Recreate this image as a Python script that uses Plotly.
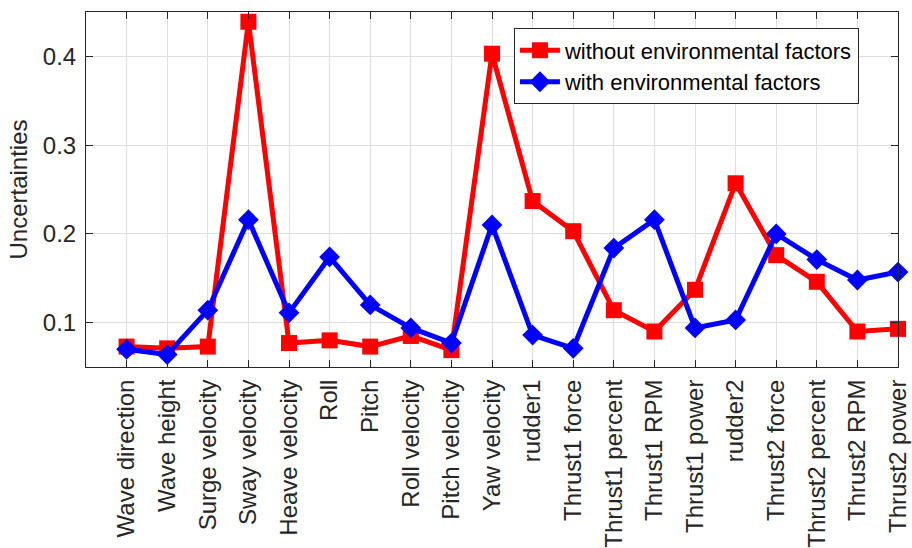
import plotly.graph_objects as go

# Input variables along the x axis
variables = [
    "Wave direction", "Wave height", "Surge velocity", "Sway velocity",
    "Heave velocity", "Roll", "Pitch", "Roll velocity", "Pitch velocity",
    "Yaw velocity", "rudder1", "Thrust1 force", "Thrust1 percent",
    "Thrust1 RPM", "Thrust1 power", "rudder2", "Thrust2 force",
    "Thrust2 percent", "Thrust2 RPM", "Thrust2 power",
]

# Uncertainty per variable
without_env = [0.073, 0.071, 0.073, 0.439, 0.077, 0.080, 0.073, 0.085, 0.069, 0.403,
               0.237, 0.203, 0.114, 0.090, 0.137, 0.257, 0.176, 0.146, 0.090, 0.093]
with_env = [0.070, 0.064, 0.114, 0.216, 0.111, 0.174, 0.120, 0.094, 0.077, 0.210,
            0.086, 0.071, 0.184, 0.216, 0.094, 0.103, 0.200, 0.171, 0.148, 0.157]

y_ticks = [0.1, 0.2, 0.3, 0.4]

positions = list(range(1, len(variables) + 1))
axis_color = "#262626"
grid_color = "#dfdfdf"
font_family = "Liberation Sans, Arial, sans-serif"

fig = go.Figure()
fig.add_trace(go.Scatter(
    x=positions, y=without_env, mode="lines+markers",
    name="without environmental factors",
    line=dict(color="#ff0000", width=5),
    marker=dict(symbol="square", size=16, color="#ff0000"),
    cliponaxis=False,
))
fig.add_trace(go.Scatter(
    x=positions, y=with_env, mode="lines+markers",
    name="with environmental factors",
    line=dict(color="#0000ff", width=5),
    marker=dict(symbol="diamond", size=16, color="#0000ff"),
    cliponaxis=False,
))

axis_common = dict(
    showline=True, linecolor=axis_color, linewidth=1, mirror="ticks",
    ticks="inside", ticklen=7, tickcolor=axis_color,
    showgrid=True, gridcolor=grid_color, gridwidth=1, zeroline=False,
    automargin=False,
)

fig.update_xaxes(
    range=[0, 20], tickmode="array", tickvals=positions, ticktext=variables,
    tickangle=-90, ticklabelstandoff=2,
    tickfont=dict(family=font_family, size=24, color=axis_color),
    **axis_common,
)
fig.update_yaxes(
    range=[0.05, 0.45], tickmode="array", tickvals=y_ticks,
    ticktext=[f"{v:.1f}" for v in y_ticks], ticklabelstandoff=4,
    tickfont=dict(family=font_family, size=24, color=axis_color),
    title=dict(text="Uncertainties", standoff=8,
               font=dict(family=font_family, size=24, color=axis_color)),
    **axis_common,
)

fig.update_layout(
    width=912, height=548,
    margin=dict(l=86, r=14, t=12, b=181),
    paper_bgcolor="white", plot_bgcolor="white",
    font=dict(family=font_family, size=22, color=axis_color),
    showlegend=True,
    legend=dict(
        x=0.527, y=0.954, xanchor="left", yanchor="top",
        bgcolor="white", bordercolor=axis_color, borderwidth=1,
        font=dict(family=font_family, size=22, color="#000000"),
        tracegroupgap=0, itemwidth=40,
    ),
)

fig.write_html("out.html")
